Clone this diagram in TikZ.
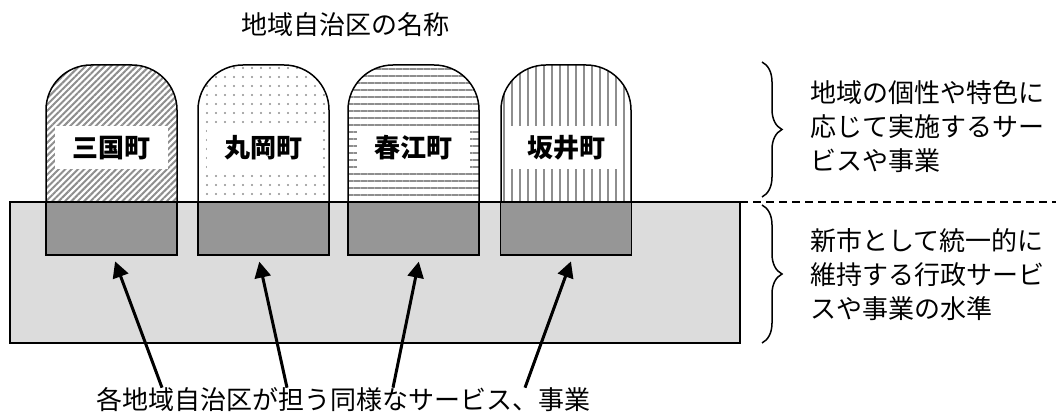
\documentclass[tikz,border=0pt]{standalone}
\usepackage{fontspec}
\setmainfont{Noto Sans CJK JP}
\usepackage{tikz}
\usetikzlibrary{positioning,calc,patterns,patterns.meta,arrows.meta,decorations.pathreplacing}
\definecolor{basegray}{HTML}{DCDCDC}
\definecolor{boxgray}{HTML}{969696}
\definecolor{patgray}{HTML}{8E8E8E}

\begin{document}
\begin{tikzpicture}[x=1pt,y=1pt,
        txt/.style={inner sep=0pt, font=\fontsize{26}{34}\selectfont},
        stone/.style={draw, line width=1.5pt, pattern color=patgray},
        townlabel/.style={fill=white, inner sep=0pt, minimum width=113pt, minimum height=43pt, font=\fontsize{26}{30}\selectfont\bfseries},
        base/.style={draw, line width=1.5pt, fill=boxgray, inner sep=0pt, minimum width=131pt, minimum height=53pt},
        arr/.style={-{Triangle[length=16pt,width=16pt]}, line width=3pt, shorten >=6pt},
        bracket/.style={decorate, decoration={brace, amplitude=20pt}, line width=1.5pt}]
    \useasboundingbox (0,0) rectangle (1056,419);

    % common level of services
    \draw[line width=2pt, fill=basegray] (10,76) rectangle (740,217);
    \draw[dash pattern=on 8pt off 5pt, line width=1.5pt] (740,217) -- (1056,217);

    % local districts
    \path[stone, pattern={Lines[angle=45,distance=4.5pt,line width=2pt]}]
        (46,217) -- (46,309) arc[start angle=180,end angle=90,radius=45] -- (132,354) arc[start angle=90,end angle=0,radius=45] -- (177,217);
    \path[stone, pattern={Dots[distance=9pt,radius=1.2pt]}]
        (198,217) -- (198,309) arc[start angle=180,end angle=90,radius=45] -- (284,354) arc[start angle=90,end angle=0,radius=45] -- (329,217);
    \path[stone, pattern={Lines[angle=0,distance=7pt,line width=1.6pt]}]
        (348,217) -- (348,309) arc[start angle=180,end angle=90,radius=45] -- (434,354) arc[start angle=90,end angle=0,radius=45] -- (479,217);
    \path[stone, pattern={Lines[angle=90,distance=8pt,line width=2.6pt]}]
        (501,217) -- (501,309) arc[start angle=180,end angle=90,radius=45] -- (586,354) arc[start angle=90,end angle=0,radius=45] -- (631,217);

    \node[townlabel] (mikuni) at (111.5,271) {三国町};
    \node[townlabel] (maruoka) at (263.5,271) {丸岡町};
    \node[townlabel] (harue) at (413.5,271) {春江町};
    \node[townlabel] (sakai) at (566,271) {坂井町};

    \node[base] (mikuni-base) at (111.5,190.5) {};
    \node[base] (maruoka-base) at (263.5,190.5) {};
    \node[base] (harue-base) at (413.5,190.5) {};
    \node[base] (sakai-base) at (566,190.5) {};

    % texts
    \node[txt] (title) at (345,394) {地域自治区の名称};
    \node[txt, anchor=west, align=left] (local) at (810,292) {地域の個性や特色に\\応じて実施するサー\\ビスや事業};
    \node[txt, anchor=west, align=left] (common) at (810,144) {新市として統一的に\\維持する行政サービ\\スや事業の水準};
    \node[txt] (shared) at (343,19) {各地域自治区が担う同様なサービス、事業};

    % braces
    \draw[bracket] (762,357) -- (762,222);
    \draw[bracket] (762,214) -- (762,76);

    % arrows
    \draw[arr] ([xshift=-181pt]shared.north) -- ([xshift=1.5pt]mikuni-base.south);
    \draw[arr] ([xshift=-56pt]shared.north) -- ([xshift=-5.5pt]maruoka-base.south);
    \draw[arr] ([xshift=50pt]shared.north) -- ([xshift=6.5pt]harue-base.south);
    \draw[arr] ([xshift=182pt]shared.north) -- ([xshift=7pt]sakai-base.south);
\end{tikzpicture}
\end{document}
